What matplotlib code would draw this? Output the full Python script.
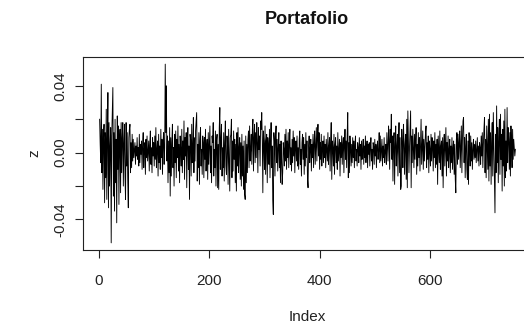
import numpy as np
import matplotlib
matplotlib.use("Agg")
import matplotlib.pyplot as plt

plt.rcParams["font.family"] = ["Liberation Sans", "DejaVu Sans"]

# portfolio returns, in thousandths
z_milli = [
    20, 5, -6, 41, -12, 14, -22, 8, 17, -30,
    12, -15, 26, -28, 9, 36, -33, 18, -20, 4,
    15, -54, 10, 25, 39, -26, 12, -35, 20, -18,
    8, -42, 22, -10, 16, -31, 5, 14, -24, 18,
    -12, 9, 18, -20, 6, 17, -14, -28, 18, -8,
    12, -16, -33, 9, 14, 17, -12, 6, -9, 11,
    -5, 8, -3, 2, 6, -7, 4, -2, 9, -4,
    3, -8, 11, -6, 5, -1, 7, -10, 4, 12,
    -9, 2, 6, -13, 8, -3, 10, -5, 1, 7,
    -11, 5, 13, -7, 3, -12, 9, -2, 6, -8,
    10, -4, 15, -9, 2, 7, -14, 11, -6, 4,
    -10, 14, -3, 8, -13, 6, 12, -7, 3, 53,
    12, 40, -5, 10, -18, 7, -12, 15, -26, 9,
    -14, 6, 17, -9, 3, -20, 11, -6, 13, -15,
    8, -3, 16, -11, 5, -18, 10, 2, -8, 14,
    -12, 7, -4, 19, -16, 9, -2, 12, -21, 6,
    15, -10, 4, -28, 11, 8, -14, 17, -6, 3,
    21, -12, 9, -5, 13, 18, 24, -17, 5, -9,
    12, -19, 7, 15, -8, 2, -13, 10, 6, -15,
    9, -4, 14, -11, 3, 8, -16, 12, -7, 5,
    16, -12, 4, -18, 10, 6, 18, -14, 2, -9,
    13, -20, 7, 11, -21, 5, -22, 15, 27, -10,
    8, 17, -14, 3, -9, 12, -17, 6, 19, -8,
    -13, 10, 4, -19, 14, -6, -23, 9, 11, 20,
    -15, 7, -11, 13, -4, 8, -18, 5, -23, 12,
    -8, 15, -12, 3, 9, -16, 6, -20, 11, -14,
    4, -22, 7, -25, -28, 10, -18, 5, -12, 8,
    13, -9, 16, -5, 2, 11, -7, 14, 20, -11,
    9, 17, -6, 12, -3, 18, 6, -12, 15, 2,
    10, -8, 19, 14, 24, 8, -24, 13, 5, -10,
    16, -13, 7, 11, -18, 9, 3, -7, 14, -15,
    6, 18, -9, 4, -28, -37, 12, 7, -14, 10,
    16, -6, 8, -11, 3, 12, -9, 5, -18, 7,
    -4, -19, -12, 6, 2, -8, 11, -5, 14, -10,
    7, -3, 12, -9, 5, 14, -7, 3, -11, 8,
    -6, 13, -2, 9, -12, 4, 7, -5, 10, -8,
    3, -10, 8, 13, -7, 2, -14, 6, 11, -4,
    9, -13, 5, -8, 12, -3, 7, -16, -21, 4,
    10, -6, 2, 8, -11, 5, -3, 11, -9, 6,
    13, -7, 4, 15, -5, 9, 17, -2, 12, -10,
    6, -4, 11, -8, 3, 7, -6, 10, -3, 5,
    -9, 8, 2, -5, 12, -7, 4, 9, -11, 6,
    18, -16, 7, 3, -8, 11, -13, 5, 9, -6,
    4, -10, 12, -5, 2, 8, -14, 6, -3, 10,
    -7, 5, 9, -12, 3, 14, -4, 7, -9, 11,
    24, -15, 6, -12, 10, 2, -8, 5, -6, 9,
    -3, 7, -9, 4, 10, -5, 2, -8, 6, 3,
    -6, 9, -2, 5, -10, 7, -4, 1, 8, -7,
    4, -3, 10, -6, 2, 7, -9, 5, -1, 6,
    -8, 3, 9, -5, 2, -10, 6, 4, -7, 8,
    -2, 5, -9, 3, 7, -4, 1, 12, -6, 10,
    -5, 2, 8, -8, 4, -3, 9, -6, 1, 5,
    -7, 12, 3, -5, 16, 8, -10, 14, 6, 23,
    -4, 10, -17, 7, 12, -19, 5, 16, -8, 3,
    11, -14, 6, 18, -12, 9, -22, -20, 14, 4,
    -9, 17, 7, -13, 5, 11, -16, 20, -21, 25,
    8, -12, 3, 13, 25, -21, 10, -6, 14, 2,
    -9, 11, -4, 7, 15, -13, 5, -8, 12, -3,
    9, -11, 6, 20, -7, 3, 13, -10, 8, -5,
    4, 12, 16, -9, 6, -4, 10, -12, 7, 2,
    -8, 11, -5, 9, 3, -11, 7, -3, 12, -9,
    5, -7, 8, -19, 10, 2, -6, 13, -10, 4,
    7, -14, 9, -21, 5, 11, -8, 3, 15, -14,
    6, -5, 10, -9, 2, 8, -12, 4, -6, 9,
    -10, 3, 7, -13, 5, -16, -24, 8, 12, -7,
    11, -4, 6, 13, -9, 3, 16, -12, 8, 19,
    21, -6, 9, -15, 4, 11, -10, -16, 7, -19,
    12, 3, -8, 10, -5, 6, -10, 2, 8, -4,
    5, -3, 7, -6, 2, 9, -5, 4, -8, 6,
    3, -7, 10, -2, 12, -9, 5, 14, 21, -12,
    8, -15, 16, 4, -10, 20, -17, 23, -8, 12,
    -19, 6, 18, -14, 24, 3, -22, -36, 11, -12,
    28, -6, 15, -18, 9, 20, -13, 23, -4, 11,
    -23, 14, -8, 19, -20, 26, -15, 7, -11, 27,
    -6, 15, 8, -10, 12, -14, 16, 5, -9, 14,
    -4, 8, 3, -2, 2,
]
z = np.array(z_milli) / 1000.0
index = np.arange(1, len(z) + 1)

fig = plt.figure(figsize=(5.24, 3.27), dpi=100)
# axes runs past the right edge of the picture, as in the reference
ax = fig.add_axes([83 / 524, 77 / 327, 449 / 524, 193 / 327])
ax.plot(index, z, color="black", lw=0.65)

# R-style 4% padding
n = len(z)
xpad = 0.04 * (n - 1)
ax.set_xlim(1 - xpad, n + xpad)
ypad = 0.04 * (z.max() - z.min())
ax.set_ylim(z.min() - ypad, z.max() + ypad)

ax.set_xticks([0, 200, 400, 600])
ax.set_yticks([-0.04, -0.02, 0.0, 0.02, 0.04])
ax.set_yticklabels(["-0.04", "", "0.00", "", "0.04"], rotation=90, va="center")
ax.tick_params(direction="out", length=6, width=0.8, labelsize=11, colors="#222222")
ax.tick_params(axis="x", pad=11)
ax.tick_params(axis="y", pad=5)
for s in ax.spines.values():
    s.set_linewidth(0.8)
    s.set_color("#222222")

ax.set_xlabel("Index", fontsize=11, labelpad=16, color="#222222")
ax.set_ylabel("z", fontsize=11, labelpad=9, color="#222222")
fig.text(307 / 524, 1 - 20 / 327, "Portafolio", ha="center", va="center",
         fontsize=13, fontweight="bold", color="#111111")

fig.savefig("out.png", dpi=100)
